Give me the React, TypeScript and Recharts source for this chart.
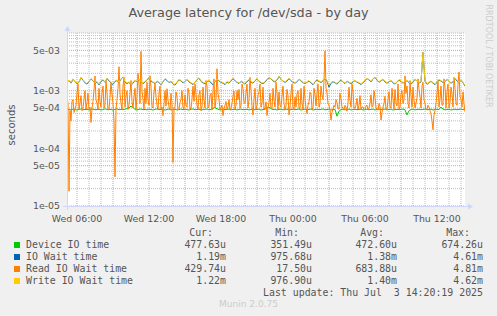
import { LineChart, Line, XAxis, YAxis, ReferenceLine, CartesianGrid } from "recharts";

// samples every 10 minutes from Wed 05:10 (hours counted from Wed 00:00)
const START_HOUR = 5 + 10 / 60;
const STEP_HOURS = 10 / 60;
// read wait is kept at its 5 minute resolution
const READ_STEP_HOURS = 5 / 60;

// values in microseconds
const deviceIoUs = [
  480, 470, 465, 478, 472, 460, 475, 482, 468, 470, 476, 462, 474, 480, 466, 471, 478, 463, 470, 485,
  472, 468, 476, 460, 474, 481, 469, 473, 466, 478, 490, 505, 540, 520, 470, 462, 476, 480, 468, 472,
  465, 478, 470, 462, 474, 483, 468, 471, 477, 460, 473, 480, 466, 470, 476, 464, 472, 479, 468, 474,
  470, 461, 476, 482, 467, 472, 478, 463, 471, 475, 480, 466, 472, 490, 510, 485, 470, 462, 476, 469,
  474, 480, 466, 471, 477, 462, 473, 479, 468, 470, 475, 464, 472, 480, 466, 473, 478, 461, 470, 476,
  500, 520, 488, 470, 476, 462, 473, 480, 465, 472, 478, 463, 471, 476, 468, 474, 480, 460, 472, 477,
  466, 473, 480, 462, 470, 476, 468, 474, 482, 465, 471, 478, 462, 470, 475, 360, 440, 470, 478, 466,
  472, 480, 464, 470, 476, 468, 473, 479, 461, 471, 476, 466, 473, 480, 463, 470, 477, 468, 474, 480,
  465, 471, 478, 462, 470, 475, 468, 473, 480, 466, 380, 450, 472, 478, 464, 471, 476, 467, 474, 480,
  466, 472, 477, 463, 470, 476, 468, 520, 480, 465, 471, 477, 462, 470, 476, 468, 473, 480, 466, 478,
];

const ioWaitUs = [
  1430, 1500, 1350, 1580, 1450, 1320, 1400, 1680, 1520, 1370, 1300, 1440, 1600, 1470, 1350, 1420, 1260, 1450, 1530, 1400,
  1620, 1480, 1360, 1280, 1450, 1500, 1380, 1580, 1720, 1420, 1320, 1400, 1240, 1350, 1500, 1430, 1580, 1450, 1330, 1400,
  1530, 1680, 1470, 1400, 1320, 1450, 1380, 1270, 1420, 1600, 1510, 1380, 1440, 1320, 1250, 1400, 1550, 1470, 1360, 1440,
  1580, 1420, 1350, 1270, 1400, 1530, 1650, 1450, 1370, 1320, 1420, 1500, 1360, 1280, 1430, 1580, 1470, 1400, 1350, 1270,
  1420, 1350, 1470, 1620, 1500, 1390, 1330, 1450, 1380, 1300, 1440, 1530, 1410, 1350, 1470, 1600, 1450, 1370, 1320, 1400,
  1550, 1680, 1600, 1470, 1420, 1530, 1750, 1580, 1450, 1400, 1470, 1620, 1490, 1400, 1350, 1430, 1580, 1470, 1380, 1320,
  1400, 1470, 1350, 1270, 1420, 1530, 1450, 1380, 1490, 1630, 1470, 1150, 1350, 1430, 1380, 1300, 1420, 1530, 1400, 1330,
  1450, 1380, 1320, 1420, 1500, 1400, 1350, 1270, 1390, 1480, 1630, 1530, 1420, 1600, 1700, 1520, 1400, 1480, 1570, 1420,
  1350, 1420, 1500, 1370, 1300, 1400, 1530, 1450, 1350, 1420, 1500, 1370, 1320, 1400, 1580, 1450, 1350, 1420, 4610, 1470,
  1290, 1380, 1450, 1350, 1270, 1420, 1530, 1470, 1380, 1430, 1580, 1450, 1350, 1420, 1630, 1470, 1400, 1520, 1380, 1190,
];

const readWaitUs = [
  800, 600, 18, 450, 300, 650, 700, 420, 480, 560, 900, 1300, 470, 600, 820, 450, 500, 700, 1000, 480,
  620, 900, 470, 520, 280, 500, 650, 1000, 1800, 700, 600, 480, 1100, 650, 520, 900, 1200, 500, 560, 1500,
  900, 460, 480, 750, 1400, 900, 600, 300, 32, 480, 700, 1100, 2600, 900, 600, 480, 1200, 1700, 520, 800,
  1000, 470, 560, 900, 1500, 650, 500, 780, 1100, 460, 800, 2000, 1300, 600, 4800, 1000, 700, 480, 1100, 600,
  1400, 700, 560, 1800, 1150, 520, 500, 950, 1300, 800, 560, 470, 900, 1200, 480, 520, 370, 600, 1000, 540,
  1080, 700, 520, 460, 900, 600, 57, 500, 520, 950, 780, 460, 480, 620, 700, 1000, 500, 480, 850, 560,
  520, 1100, 900, 480, 500, 700, 1200, 650, 1300, 900, 560, 480, 860, 1000, 450, 520, 1150, 700, 500, 1500,
  1200, 500, 540, 820, 900, 460, 1000, 1600, 520, 700, 2400, 900, 700, 480, 500, 560, 370, 480, 560, 650,
  480, 520, 700, 460, 500, 600, 800, 980, 480, 560, 1000, 700, 1050, 500, 550, 1300, 1100, 620, 600, 900,
  1300, 500, 700, 1700, 1000, 540, 380, 700, 1100, 480, 550, 820, 950, 1300, 520, 600, 1150, 480, 500, 640,
  370, 520, 620, 900, 500, 480, 1100, 700, 520, 1400, 900, 480, 950, 560, 520, 800, 1200, 600, 460, 540,
  1050, 820, 380, 520, 930, 1300, 500, 460, 780, 520, 880, 1000, 500, 480, 1100, 600, 480, 1200, 720, 500,
  400, 560, 650, 940, 860, 480, 500, 1100, 850, 540, 900, 1300, 520, 600, 1200, 850, 700, 1500, 4900, 1100,
  900, 600, 560, 460, 310, 420, 480, 560, 520, 700, 620, 480, 480, 900, 720, 520, 500, 460, 560, 520,
  440, 600, 1150, 700, 520, 1300, 950, 500, 500, 560, 740, 480, 560, 820, 470, 520, 520, 460, 480, 540,
  560, 470, 500, 600, 850, 520, 540, 1000, 750, 500, 480, 460, 600, 540, 310, 420, 520, 600, 800, 480,
  480, 700, 950, 520, 500, 1100, 700, 480, 1050, 600, 540, 1300, 470, 520, 880, 1000, 600, 700, 1800, 900,
  1200, 600, 500, 1500, 800, 520, 1150, 700, 500, 600, 750, 1600, 1050, 800, 500, 1200, 1400, 700, 600, 460,
  480, 560, 520, 450, 400, 300, 210, 380, 450, 600, 900, 1500, 520, 700, 1200, 560, 560, 1600, 1150, 500,
  980, 1300, 500, 620, 1150, 900, 520, 1700, 1100, 600, 560, 1300, 2100, 800, 700, 520, 950, 600, 430,
];

const writeWaitUs = [
  1450, 1520, 1380, 1600, 1480, 1350, 1420, 1700, 1550, 1400, 1330, 1460, 1620, 1500, 1380, 1440, 1300, 1480, 1560, 1420,
  1650, 1500, 1390, 1320, 1470, 1530, 1400, 1600, 1750, 1450, 1350, 1420, 1280, 1380, 1520, 1460, 1600, 1480, 1360, 1430,
  1550, 1700, 1500, 1420, 1350, 1480, 1400, 1300, 1450, 1620, 1540, 1400, 1470, 1350, 1280, 1420, 1580, 1500, 1390, 1460,
  1600, 1450, 1380, 1300, 1420, 1560, 1680, 1480, 1400, 1350, 1450, 1520, 1390, 1320, 1460, 1600, 1500, 1420, 1380, 1300,
  1450, 1380, 1500, 1650, 1520, 1420, 1360, 1480, 1400, 1330, 1470, 1560, 1440, 1380, 1500, 1620, 1480, 1400, 1350, 1430,
  1580, 1700, 1620, 1500, 1450, 1550, 1780, 1600, 1480, 1420, 1500, 1650, 1520, 1430, 1380, 1460, 1600, 1500, 1400, 1350,
  1420, 1500, 1380, 1300, 1450, 1560, 1480, 1400, 1520, 1650, 1500, 1250, 1380, 1460, 1400, 1330, 1450, 1560, 1420, 1360,
  1480, 1400, 1350, 1450, 1520, 1430, 1380, 1300, 1420, 1500, 1650, 1560, 1450, 1620, 1720, 1550, 1430, 1500, 1600, 1450,
  1380, 1450, 1520, 1400, 1330, 1420, 1560, 1480, 1380, 1450, 1520, 1400, 1350, 1430, 1600, 1480, 1380, 1450, 4620, 1500,
  1320, 1400, 1480, 1380, 1300, 1450, 1560, 1500, 1400, 1460, 1600, 1480, 1380, 1450, 1650, 1500, 1420, 1550, 1400, 1220,
];

const xTicks = [6, 12, 18, 24, 30, 36];
const xTickLabels = ["Wed 06:00", "Wed 12:00", "Wed 18:00", "Thu 00:00", "Thu 06:00", "Thu 12:00"];
const minorHours = [
  7, 8, 10, 11, 13, 14, 16, 17, 19, 20, 22, 23, 25, 26, 28, 29, 31, 32, 34, 35, 37, 38,
];
const majorHours = [6, 9, 12, 15, 18, 21, 24, 27, 30, 33, 36];

const yTicks = [1e-5, 5e-5, 1e-4, 5e-4, 1e-3, 5e-3];
const yTickLabels = ["1e-05", "5e-05", "1e-04", "5e-04", "1e-03", "5e-03"];
const minorY = [
  2e-5, 3e-5, 4e-5, 6e-5, 7e-5, 8e-5, 9e-5,
  2e-4, 3e-4, 4e-4, 6e-4, 7e-4, 8e-4, 9e-4,
  2e-3, 3e-3, 4e-3, 6e-3, 7e-3, 8e-3, 9e-3, 1e-2,
];

const legendNames = ["Device IO time", "IO Wait time", "Read IO Wait time", "Write IO Wait time"];
const legendColors = ["#00cc00", "#0066b3", "#ff8000", "#ffcc00"];
const legendCur = ["477.63u", "1.19m", "429.74u", "1.22m"];
const legendMin = ["351.49u", "975.68u", "17.50u", "976.90u"];
const legendAvg = ["472.60u", "1.38m", "683.88u", "1.40m"];
const legendMax = ["674.26u", "4.61m", "4.81m", "4.62m"];

const data = deviceIoUs.map((d, i) => ({
  t: START_HOUR + i * STEP_HOURS,
  device: d / 1e6,
  iowait: ioWaitUs[i] / 1e6,
  write: writeWaitUs[i] / 1e6,
}));

const readData = readWaitUs.map((v, i) => ({
  t: START_HOUR + i * READ_STEP_HOURS,
  read: v / 1e6,
}));

const FONT = "'DejaVu Sans', sans-serif";
const MONO = "'DejaVu Sans Mono', monospace";
const TEXT = "#555";
const AXIS = "#cfd6f8";
const MINOR = "#bdbdbd";
const MAJOR = "#e79a9a";

const monoText = (top: number, right: number, text: string) => (
  <div
    style={{
      position: "absolute",
      top,
      right: 497 - right,
      fontFamily: MONO,
      fontSize: 9.9,
      lineHeight: "12px",
      whiteSpace: "pre",
      color: TEXT,
    }}
  >
    {text}
  </div>
);

export default function App() {
  const rowTop = [239, 251, 263, 275];
  return (
    <div
      style={{
        position: "absolute",
        left: 0,
        top: 0,
        width: 497,
        height: 316,
        background: "#f0f0f0",
        overflow: "hidden",
      }}
    >
      <div
        style={{
          position: "absolute",
          top: 5,
          left: 0,
          width: 497,
          textAlign: "center",
          fontFamily: FONT,
          fontSize: 12.8,
          color: TEXT,
        }}
      >
        Average latency for /dev/sda - by day
      </div>
      <div
        style={{
          position: "absolute",
          left: 11,
          top: 125,
          transform: "translate(-50%, -50%) rotate(-90deg)",
          fontFamily: FONT,
          fontSize: 10,
          color: TEXT,
          whiteSpace: "nowrap",
        }}
      >
        seconds
      </div>
      <div
        style={{
          position: "absolute",
          left: 488,
          top: 56,
          transform: "translate(-50%, -50%) rotate(90deg)",
          fontFamily: FONT,
          fontSize: 8,
          color: "#cccccc",
          whiteSpace: "nowrap",
        }}
      >
        RRDTOOL / TOBI OETIKER
      </div>

      <LineChart
        width={497}
        height={316}
        data={data}
        margin={{ top: 33, right: 32, left: 0, bottom: 0 }}
        style={{ position: "absolute", left: 0, top: 0 }}
      >
        <CartesianGrid fill="#ffffff" horizontal={false} vertical={false} />
        <XAxis
          dataKey="t"
          type="number"
          domain={[START_HOUR, START_HOUR + (deviceIoUs.length - 1) * STEP_HOURS]}
          ticks={xTicks}
          tickFormatter={(v: number) => xTickLabels[xTicks.indexOf(v)] ?? ""}
          height={110}
          tickLine={false}
          tickSize={2}
          tickMargin={7}
          axisLine={false}
          tick={{ fill: TEXT, fontSize: 9.4, fontFamily: FONT }}
          allowDataOverflow
        />
        <YAxis
          type="number"
          scale="log"
          domain={[1e-5, 1e-2]}
          ticks={yTicks}
          tickFormatter={(v: number) => yTickLabels[yTicks.indexOf(v)] ?? ""}
          width={67}
          tickLine={false}
          tickSize={0}
          tickMargin={7}
          axisLine={false}
          tick={{ fill: TEXT, fontSize: 9.4, fontFamily: FONT }}
          allowDataOverflow
        />
        {minorY.map((v) => (
          <ReferenceLine key={"my" + v} y={v} stroke={MINOR} strokeWidth={1} strokeDasharray="1 1" />
        ))}
        {minorHours.map((h) => (
          <ReferenceLine key={"mx" + h} x={h} stroke={MINOR} strokeWidth={1} strokeDasharray="1 1" />
        ))}
        {yTicks.map((v) => (
          <ReferenceLine key={"My" + v} y={v} stroke={MAJOR} strokeWidth={1} strokeDasharray="1 1" />
        ))}
        {majorHours.map((h) => (
          <ReferenceLine key={"Mx" + h} x={h} stroke={MAJOR} strokeWidth={1} strokeDasharray="1 1" />
        ))}
        <Line type="linear" dataKey="device" stroke="#00cc00" strokeWidth={1} dot={false} isAnimationActive={false} />
        <Line type="linear" dataKey="iowait" stroke="#0066b3" strokeWidth={1} dot={false} isAnimationActive={false} />
        <Line
          type="linear"
          data={readData}
          dataKey="read"
          stroke="#ff8000"
          strokeWidth={1}
          dot={false}
          isAnimationActive={false}
        />
        <Line type="linear" dataKey="write" stroke="#ffcc00" strokeWidth={1} dot={false} isAnimationActive={false} />
      </LineChart>

      {/* axis lines with arrow heads, as rrdtool draws them */}
      <svg
        width={497}
        height={316}
        style={{ position: "absolute", left: 0, top: 0, pointerEvents: "none" }}
      >
        <line x1={67.5} y1={210} x2={67.5} y2={30} stroke={AXIS} />
        <polygon points="64.5,31 70.5,31 67.5,26" fill={AXIS} />
        <line x1={63} y1={206.5} x2={469} y2={206.5} stroke={AXIS} />
        <polygon points="468,203.5 468,209.5 473,206.5" fill={AXIS} />
      </svg>

      {monoText(227, 213, "Cur:")}
      {monoText(227, 299, "Min:")}
      {monoText(227, 384, "Avg:")}
      {monoText(227, 470, "Max:")}
      {legendNames.map((name, i) => (
        <div key={name}>
          <div
            style={{
              position: "absolute",
              left: 14,
              top: rowTop[i] + 3,
              width: 6,
              height: 6,
              background: legendColors[i],
            }}
          />
          <div
            style={{
              position: "absolute",
              left: 26,
              top: rowTop[i],
              fontFamily: MONO,
              fontSize: 9.9,
              lineHeight: "12px",
              whiteSpace: "pre",
              color: TEXT,
            }}
          >
            {name}
          </div>
          {monoText(rowTop[i], 226, legendCur[i])}
          {monoText(rowTop[i], 312, legendMin[i])}
          {monoText(rowTop[i], 397, legendAvg[i])}
          {monoText(rowTop[i], 483, legendMax[i])}
        </div>
      ))}
      {monoText(287, 483, "Last update: Thu Jul  3 14:20:19 2025")}
      <div
        style={{
          position: "absolute",
          top: 299,
          left: 0,
          width: 497,
          textAlign: "center",
          fontFamily: FONT,
          fontSize: 9,
          color: "#cccccc",
        }}
      >
        Munin 2.0.75
      </div>
    </div>
  );
}
